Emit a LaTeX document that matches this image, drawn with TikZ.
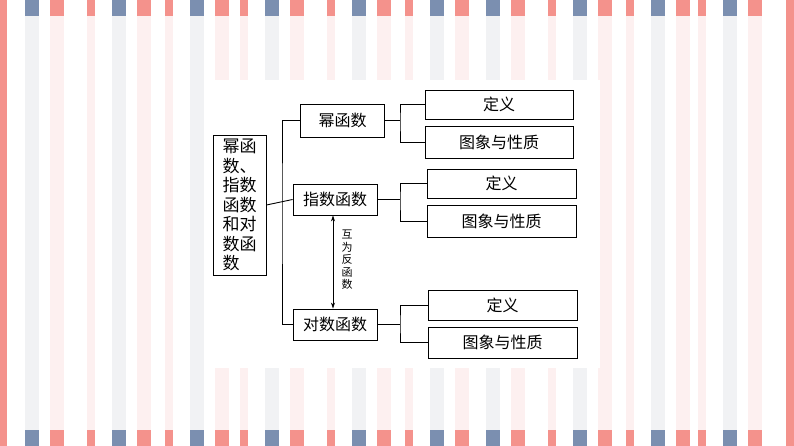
\documentclass[tikz,border=0pt]{standalone}
\usepackage{fontspec}
\newfontfamily\cjk{Noto Sans CJK SC}
\usetikzlibrary{arrows.meta}
\definecolor{sblue}{HTML}{7B8FB0}
\definecolor{spink}{HTML}{F4928C}
\definecolor{lblue}{HTML}{F1F2F4}
\definecolor{lpink}{HTML}{FDF0F0}
\tikzset{
 bx/.style={draw=black,line width=0.9pt,fill=white,inner sep=0pt,font=\cjk\fontsize{16}{18}\selectfont},
 ln/.style={line width=0.9pt},
}
\begin{document}
\begin{tikzpicture}[x=1pt,y=-1pt]
\useasboundingbox (0,0) rectangle (794,446);
\fill[white] (0,0) rectangle (794,446);
\foreach \a in {25,112,190,265,352,430,486,573,651,723}{
  \fill[lblue] (\a,16) rectangle ++(14,414);
  \fill[sblue] (\a,0) rectangle ++(14,16);
  \fill[sblue] (\a,430) rectangle ++(14,16);}
\foreach \a in {50,137,215,290,377,455,511,598,676,748}{
  \fill[lpink] (\a,16) rectangle ++(14,414);
  \fill[spink] (\a,0) rectangle ++(14,16);
  \fill[spink] (\a,430) rectangle ++(14,16);}
\foreach \a in {87,165,240,327,405,548,626,698}{
  \fill[lpink] (\a,16) rectangle ++(8,414);
  \fill[spink] (\a,0) rectangle ++(8,16);
  \fill[spink] (\a,430) rectangle ++(8,16);}
\fill[spink] (0,0) rectangle (7,446);
\fill[spink] (786,0) rectangle (794,446);
\fill[white] (205,80) rectangle (600,368);
% nodes
\node[bx,minimum width=53pt,minimum height=140pt,align=left,font=\cjk\fontsize{17}{19.5}\selectfont] (root) at (239.5,205) {幂函\\数、\\指数\\函数\\和对\\数函\\数\hphantom{函}};
\node[bx,minimum width=84pt,minimum height=33pt] (mi) at (342.5,120.5) {幂函数};
\node[bx,minimum width=84pt,minimum height=31pt] (zhi) at (335,199.5) {指数函数};
\node[bx,minimum width=84pt,minimum height=31pt] (dui) at (335,324.5) {对数函数};
\node[bx,minimum width=148pt,minimum height=29pt] (m1) at (499,104.5) {定义};
\node[bx,minimum width=148pt,minimum height=32pt] (m2) at (499,142) {图象与性质};
\node[bx,minimum width=149pt,minimum height=29pt] (z1) at (501.5,183.5) {定义};
\node[bx,minimum width=149pt,minimum height=32pt] (z2) at (501.5,221) {图象与性质};
\node[bx,minimum width=149pt,minimum height=30pt] (d1) at (502.5,305) {定义};
\node[bx,minimum width=149pt,minimum height=31pt] (d2) at (502.5,342.5) {图象与性质};
% connectors
\draw[ln] (root.east) -- (zhi.west);
\draw[ln] (mi.west) -| (282,205) |- (dui.west);
\draw[ln] (mi.east) -- (400,120.5);
\draw[ln] (m1.west) -| (400,120.5) |- (m2.west);
\draw[ln] (zhi.east) -- (400,199.5);
\draw[ln] (z1.west) -| (400,199.5) |- (z2.west);
\draw[ln] (dui.east) -- (400,324.5);
\draw[ln] (d1.west) -| (400,324.5) |- (d2.west);
\draw[ln,{Stealth[length=6pt,width=4pt]}-{Stealth[length=6pt,width=4pt]}] (zhi.south) ++(-2,0) coordinate (za) -- (za |- dui.north);
\node[align=center,font=\cjk\fontsize{11}{12.5}\selectfont,inner sep=0pt] (lbl) at (347,260) {互\\为\\反\\函\\数};
\end{tikzpicture}
\end{document}
